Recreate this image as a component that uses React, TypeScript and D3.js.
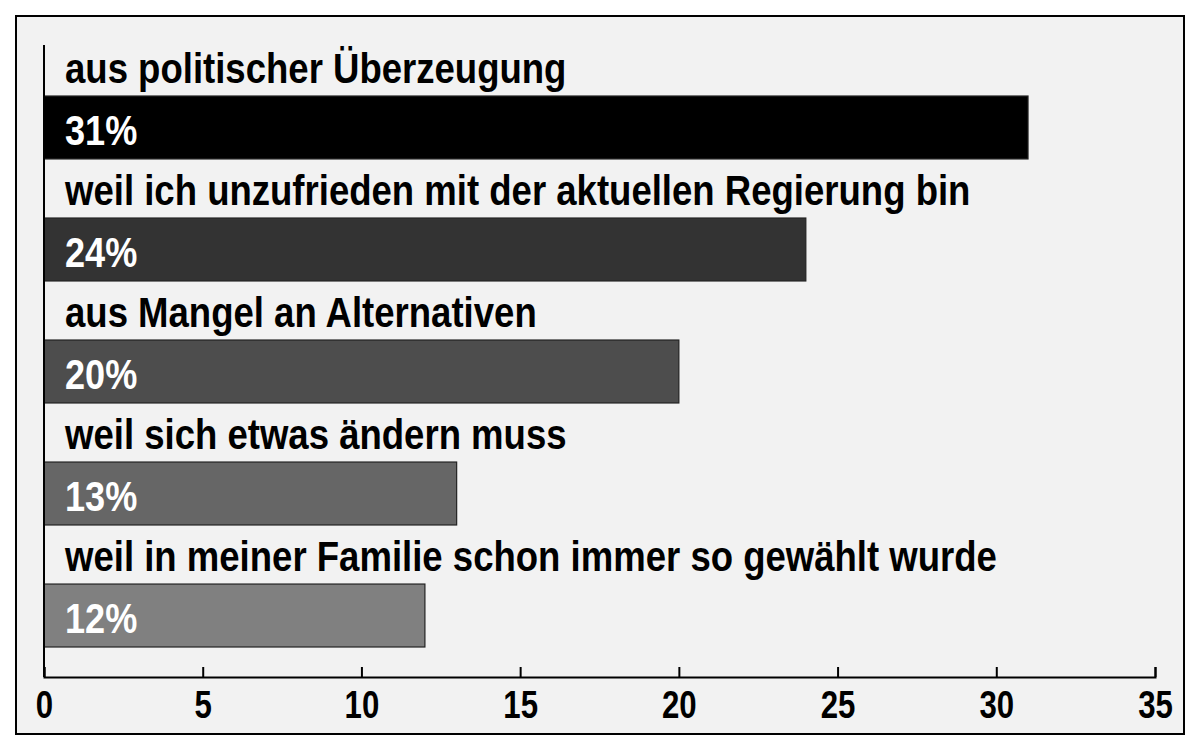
import React, { useEffect, useRef } from 'react';
import * as d3 from 'd3';

const categories = [
  'aus politischer Überzeugung',
  'weil ich unzufrieden mit der aktuellen Regierung bin',
  'aus Mangel an Alternativen',
  'weil sich etwas ändern muss',
  'weil in meiner Familie schon immer so gewählt wurde',
];
const values = [31, 24, 20, 13, 12];
const barColors = ['#000000', '#333333', '#4d4d4d', '#666666', '#808080'];
const xTicks = [0, 5, 10, 15, 20, 25, 30, 35];

const WIDTH = 1200;
const HEIGHT = 750;
const FONT = '"Liberation Sans Narrow", "Arial Narrow", "Liberation Sans", sans-serif';
// no condensed face is installed, so the regular one is squeezed sideways
const SQUEEZE = 0.85;

const App: React.FC = () => {
  const svgRef = useRef<SVGSVGElement>(null);

  useEffect(() => {
    if (!svgRef.current) return;
    const svg = d3.select(svgRef.current);
    svg.selectAll('*').remove();

    // frame
    svg.append('rect')
      .attr('x', 16).attr('y', 16)
      .attr('width', 1168).attr('height', 718)
      .attr('fill', '#f2f2f2')
      .attr('stroke', '#000')
      .attr('stroke-width', 2);

    const x = d3.scaleLinear().domain([0, 35]).range([44, 1155]);
    const y = d3.scaleBand<string>()
      .domain(categories)
      .range([96, 647])
      .paddingInner(0.484)
      .paddingOuter(0);

    const axisY = 677;

    // bars
    svg.append('g')
      .selectAll('rect')
      .data(categories)
      .join('rect')
      .attr('x', x(0))
      .attr('y', d => y(d)!)
      .attr('width', (d, i) => x(values[i]) - x(0))
      .attr('height', y.bandwidth())
      .attr('fill', (d, i) => barColors[i])
      .attr('stroke', '#222')
      .attr('stroke-width', 1.2);

    // category labels
    svg.append('g')
      .selectAll('text')
      .data(categories)
      .join('text')
      .attr('transform', d => `translate(65, ${y(d)! - 13}) scale(${SQUEEZE}, 1)`)
      .attr('fill', '#000')
      .style('font-family', FONT)
      .style('font-weight', 'bold')
      .style('font-size', '43px')
      .text(d => d);

    // value labels
    svg.append('g')
      .selectAll('text')
      .data(categories)
      .join('text')
      .attr('transform', d => `translate(65, ${y(d)! + 49}) scale(0.86, 1)`)
      .attr('fill', '#fff')
      .style('font-family', FONT)
      .style('font-weight', 'bold')
      .style('font-size', '42px')
      .text((d, i) => `${values[i]}%`);

    // x axis
    const xAxis = d3.axisBottom(x)
      .tickValues(xTicks)
      .tickSizeInner(-10)
      .tickSizeOuter(-10)
      .tickPadding(13)
      .tickFormat(d => `${d}`);

    const gx = svg.append('g')
      .attr('transform', `translate(0, ${axisY})`)
      .call(xAxis);
    gx.select('.domain').attr('stroke', '#000').attr('stroke-width', 2);
    gx.selectAll('.tick line').attr('stroke', '#000').attr('stroke-width', 2);
    gx.selectAll('.tick text')
      .attr('fill', '#000')
      .attr('transform', 'scale(0.8, 1)')
      .style('font-family', FONT)
      .style('font-weight', 'bold')
      .style('font-size', '39px');

    // y axis line
    svg.append('line')
      .attr('x1', x(0)).attr('x2', x(0))
      .attr('y1', 45).attr('y2', axisY)
      .attr('stroke', '#000')
      .attr('stroke-width', 2);
  }, []);

  return (
    <svg
      ref={svgRef}
      width={WIDTH}
      height={HEIGHT}
      style={{ position: 'absolute', left: 0, top: 0, background: '#fff' }}
    />
  );
};

export default App;
